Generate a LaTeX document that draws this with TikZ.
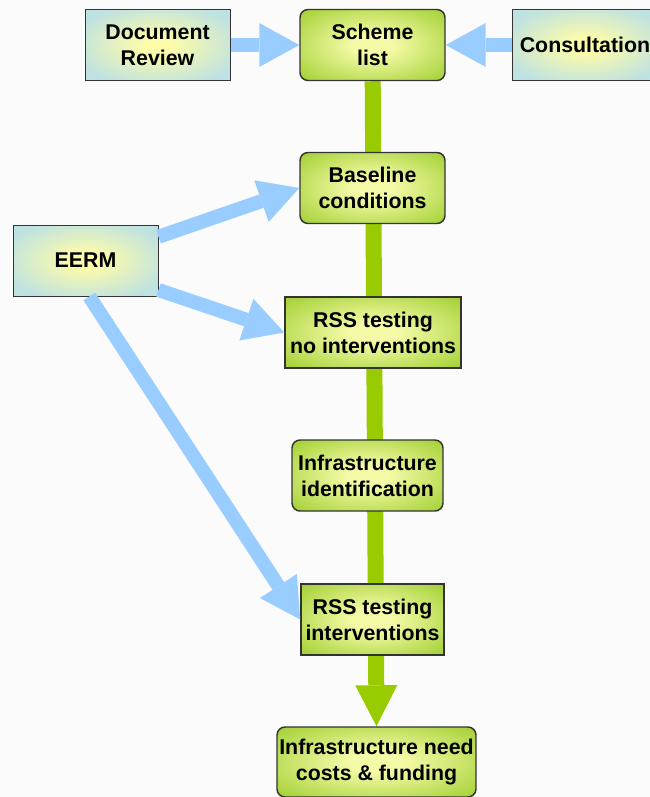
\documentclass[tikz,border=0pt]{standalone}
\usepackage{fontspec}
\setmainfont{Liberation Sans}
\usetikzlibrary{arrows.meta}
\usetikzlibrary{backgrounds}
\definecolor{boxline}{HTML}{333333}
\definecolor{stemgreen}{HTML}{99CC00}
\definecolor{feedblue}{HTML}{99CCFF}
\definecolor{glowyellow}{HTML}{F4FAA6}
\definecolor{glowgreen}{HTML}{9ACC28}
\definecolor{paleyellow}{HTML}{FCFCAA}
\definecolor{palecyan}{HTML}{BEE1E2}
\definecolor{paper}{HTML}{FBFBFB}
\pgfdeclareradialshading{greenglow}{\pgfpoint{0bp}{0bp}}{color(0bp)=(glowyellow); color(7bp)=(glowyellow); color(38bp)=(glowgreen); color(100bp)=(glowgreen)}
\pgfdeclareradialshading{blueglow}{\pgfpoint{0bp}{0bp}}{color(0bp)=(paleyellow); color(5bp)=(paleyellow); color(30bp)=(palecyan); color(100bp)=(palecyan)}

\begin{document}
\begin{tikzpicture}[x=0.75pt,y=-0.75pt,
    every node/.style={font=\bfseries\fontsize{16}{19.5}\selectfont, align=center, inner sep=0pt},
    source/.style={draw=boxline, line width=0.75pt, shading=blueglow, minimum width=108.75pt, minimum height=53.25pt},
    stage/.style={draw=boxline, line width=1.1pt, shading=greenglow, minimum height=53.25pt},
    feed/.style={feedblue, line width=10.5pt, -{Triangle[length=30pt, width=33pt, line width=0pt]}},
    stem/.style={stemgreen, line width=12pt, -{Triangle[length=30.75pt, width=31.5pt, line width=0pt]}}]
    \useasboundingbox (0,0) rectangle (650,797);
    \node[source] (doc) at (157.5,45) {Document\\Review};
    \node[stage, rounded corners=6pt, minimum width=108.75pt] (scheme) at (372.5,45) {Scheme\\list};
    \node[source] (cons) at (585,45) {Consultation};
    \node[stage, rounded corners=6pt, minimum width=108.75pt] (base) at (372.5,188) {Baseline\\conditions};
    \node[source] (eerm) at (85.5,260.5) {EERM};
    \node[stage, minimum width=132pt] (rssno) at (373,332.5) {RSS testing\\no interventions};
    \node[stage, rounded corners=6pt, minimum width=113.25pt] (infid) at (367.5,475.5) {Infrastructure\\identification};
    \node[stage, minimum width=107.25pt] (rssint) at (372.5,619.5) {RSS testing\\interventions};
    \node[stage, rounded corners=6pt, minimum width=149.25pt, minimum height=52.5pt] (need) at (376.5,762) {Infrastructure need\\costs \& funding};
    \begin{scope}[on background layer]
      \fill[paper] (0,0) rectangle (650,797);
      \draw [stem] (scheme) -- (need.north);
    \end{scope}
    \draw [feed] (doc.east) -- (scheme.west);
    \draw [feed] (cons.west) -- (scheme.east);
    \draw [feed] (eerm.18) -- (base.west);
    \draw [feed] (eerm.-22) -- (rssno.west);
    \draw [feed] (eerm.-84) -- (rssint.west);
  \end{tikzpicture}
\end{document}
